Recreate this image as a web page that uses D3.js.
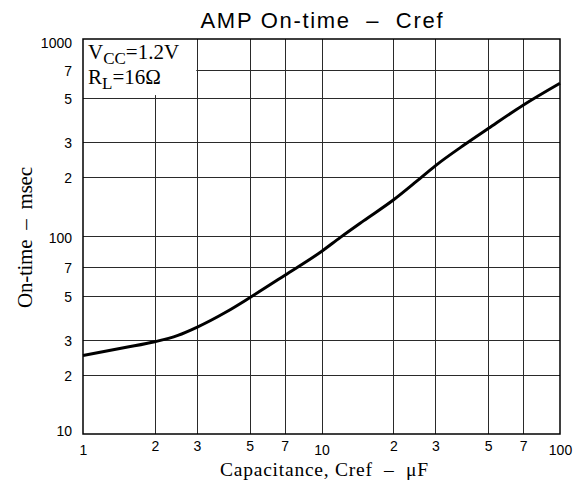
<!DOCTYPE html>
<html>
<head>
<meta charset="utf-8">
<script src="https://cdn.jsdelivr.net/npm/d3@7"></script>
<style>
  html, body { margin: 0; padding: 0; background: #fff; }
  svg { display: block; }
</style>
</head>
<body>
<svg id="chart" width="583" height="484"></svg>
<script>
// ---- data ----
const capacitance = [1, 1.5, 2, 2.5, 3, 4, 5, 7, 10, 12, 15, 20, 25, 30, 40, 50, 70, 100];
const onTime      = [25, 27.4, 29.3, 31.6, 34.7, 41.6, 49, 63.5, 84, 99, 120, 153, 190, 228, 293, 352, 462, 597];

const xTickValues = [1, 2, 3, 5, 7, 10, 20, 30, 50, 70, 100];
const xTickLabels = ["1", "2", "3", "5", "7", "10", "2", "3", "5", "7", "100"];
const yTickValues = [10, 20, 30, 50, 70, 100, 200, 300, 500, 700, 1000];
const yTickLabels = ["10", "2", "3", "5", "7", "100", "2", "3", "5", "7", "1000"];

const titleText = "AMP On-time  \u2013  Cref";
const xLabelText = "Capacitance, Cref  \u2013  \u03bcF";
const yLabelText = "On-time  \u2013  msec";

// ---- layout ----
const pLeft = 83, pRight = 560, pTop = 39, pBottom = 434;
const svg = d3.select("#chart");

const x = d3.scaleLog().domain([1, 100]).range([pLeft, pRight]);
const y = d3.scaleLog().domain([10, 1000]).range([pBottom, pTop]);

const sans = "'Liberation Sans', Arial, Helvetica, sans-serif";
const serif = "'Liberation Serif', 'Times New Roman', Times, serif";

// grid
const grid = svg.append("g").attr("stroke", "#2a2a2a").attr("stroke-width", 1)
  .attr("shape-rendering", "crispEdges");
grid.selectAll("line.vx").data(xTickValues.slice(1, -1)).join("line")
  .attr("x1", d => Math.round(x(d)) + 0.5).attr("x2", d => Math.round(x(d)) + 0.5)
  .attr("y1", pTop).attr("y2", pBottom);
grid.selectAll("line.hy").data(yTickValues.slice(1, -1)).join("line")
  .attr("y1", d => Math.round(y(d)) + 0.5).attr("y2", d => Math.round(y(d)) + 0.5)
  .attr("x1", pLeft).attr("x2", pRight);

// annotation background box (covers grid in the upper-left corner)
svg.append("rect")
  .attr("x", x(1)).attr("y", y(1000))
  .attr("width", x(3) - x(1) - 0.5).attr("height", y(520) - y(1000))
  .attr("fill", "#fff");

// curve
const line = d3.line()
  .x((d, i) => x(capacitance[i]))
  .y(d => y(d))
  .curve(d3.curveMonotoneX);
svg.append("path")
  .datum(onTime)
  .attr("d", line)
  .attr("fill", "none")
  .attr("stroke", "#000")
  .attr("stroke-width", 3)
  .attr("stroke-linejoin", "round");

// frame
svg.append("rect")
  .attr("x", pLeft).attr("y", pTop)
  .attr("width", pRight - pLeft).attr("height", pBottom - pTop)
  .attr("fill", "none").attr("stroke", "#000").attr("stroke-width", 1.5);

// axes (labels only)
const xAxis = d3.axisBottom(x).tickValues(xTickValues)
  .tickFormat((d, i) => xTickLabels[i]).tickSize(0);
const gx = svg.append("g").attr("transform", `translate(0,${pBottom})`).call(xAxis);
gx.select(".domain").remove();
gx.selectAll("text")
  .attr("font-family", sans).attr("font-size", 14).attr("fill", "#000")
  .attr("dy", 0)
  .attr("y", d => ([1, 10, 100].includes(d) ? 21 : 17));

const yAxis = d3.axisLeft(y).tickValues(yTickValues)
  .tickFormat((d, i) => yTickLabels[i]).tickSize(0).tickPadding(11);
const gy = svg.append("g").attr("transform", `translate(${pLeft},0)`).call(yAxis);
gy.select(".domain").remove();
gy.selectAll("text")
  .attr("font-family", sans).attr("font-size", 14).attr("fill", "#000")
  .attr("dy", d => (d === 1000 ? "8px" : d === 10 ? "1px" : "5.5px"));

// title
svg.append("text")
  .attr("x", (pLeft + pRight) / 2).attr("y", 28)
  .attr("text-anchor", "middle")
  .attr("font-family", sans).attr("font-size", 22)
  .style("white-space", "pre")
  .attr("textLength", 242).attr("lengthAdjust", "spacing")
  .text(titleText);

// x label
svg.append("text")
  .attr("x", 324).attr("y", 476)
  .attr("text-anchor", "middle")
  .attr("font-family", serif).attr("font-size", 19.5)
  .style("white-space", "pre")
  .attr("textLength", 208).attr("lengthAdjust", "spacing")
  .text(xLabelText);

// y label
svg.append("text")
  .attr("transform", "translate(32,237.5) rotate(-90)")
  .attr("text-anchor", "middle")
  .attr("font-family", serif).attr("font-size", 21)
  .style("white-space", "pre")
  .attr("textLength", 141).attr("lengthAdjust", "spacing")
  .text(yLabelText);

// annotation
const ann = svg.append("g").attr("font-family", serif).attr("fill", "#000");
const t1 = ann.append("text").attr("x", 88).attr("y", 59).attr("font-size", 21);
t1.append("tspan").text("V");
t1.append("tspan").attr("font-size", 17).attr("dy", 5).text("CC");
t1.append("tspan").attr("dy", -5).text("=1.2V");
const t2 = ann.append("text").attr("x", 88).attr("y", 84).attr("font-size", 21);
t2.append("tspan").text("R");
t2.append("tspan").attr("font-size", 17).attr("dy", 5).text("L");
t2.append("tspan").attr("dy", -5).text("=16\u03a9");
</script>
</body>
</html>
